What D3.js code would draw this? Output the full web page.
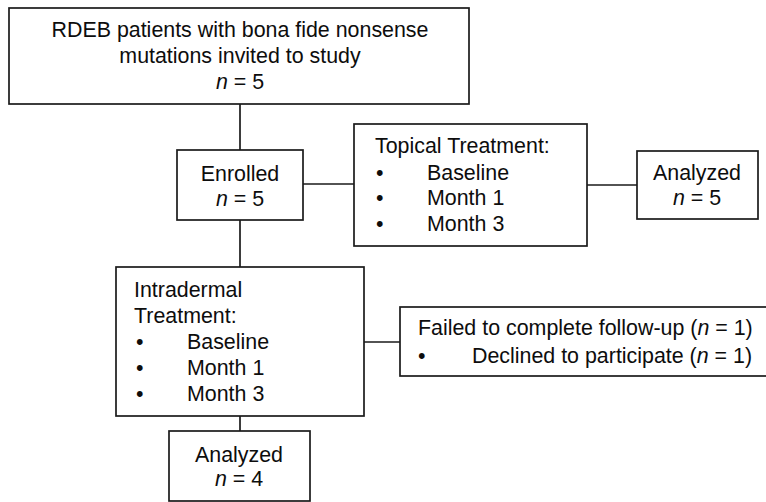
<!DOCTYPE html>
<html>
<head>
<meta charset="utf-8">
<script src="https://cdn.jsdelivr.net/npm/d3@7"></script>
<style>
  html, body { margin: 0; padding: 0; background: #fff; }
  svg { display: block; }
  text { font-family: "Liberation Sans", Arial, Helvetica, sans-serif; font-size: 21.4px; fill: #0d0d0d; }
</style>
</head>
<body>
<svg id="chart" width="766" height="502"></svg>
<script>
// ---- content (data) ----
const nodeIds = ["invited", "enrolled", "topical", "analyzedTopical", "intradermal", "failed", "analyzedIntra"];
const nodeTitles = [
  ["RDEB patients with bona fide nonsense", "mutations invited to study"],
  ["Enrolled"],
  ["Topical Treatment:"],
  ["Analyzed"],
  ["Intradermal", "Treatment:"],
  ["Failed to complete follow-up (n = 1)"],
  ["Analyzed"]
];
const nodeCounts = [5, 5, null, 5, null, null, 4];
const nodeBullets = [
  [],
  [],
  ["Baseline", "Month 1", "Month 3"],
  [],
  ["Baseline", "Month 1", "Month 3"],
  ["Declined to participate (n = 1)"],
  []
];
const links = [
  ["invited", "enrolled"],
  ["enrolled", "topical"],
  ["topical", "analyzedTopical"],
  ["enrolled", "intradermal"],
  ["intradermal", "failed"],
  ["intradermal", "analyzedIntra"]
];

// ---- layout (positions / styles) ----
const layout = {
  invited:         { x0: 9,   x1: 469, y0: 8,   y1: 104, align: "middle", tx: 240, lines: [37, 63, 89] },
  enrolled:        { x0: 177, x1: 303, y0: 150, y1: 220, align: "middle", tx: 240, lines: [181, 206] },
  topical:         { x0: 354, x1: 587, y0: 124, y1: 246, align: "start",  tx: 375, bx: 376, ix: 427, lines: [153, 180, 205, 231] },
  analyzedTopical: { x0: 637, x1: 758, y0: 151, y1: 219, align: "middle", tx: 697, lines: [180, 205] },
  intradermal:     { x0: 116, x1: 364, y0: 267, y1: 416, align: "start",  tx: 134, bx: 136, ix: 187, lines: [297, 323, 349, 375, 401] },
  failed:          { x0: 400, x1: 780, y0: 307, y1: 376, align: "start",  tx: 418, bx: 418, ix: 472, lines: [335, 363] },
  analyzedIntra:   { x0: 169, x1: 310, y0: 431, y1: 501, align: "middle", tx: 239, lines: [462, 486] }
};
const linkGeom = {
  "invited-enrolled":          { x1: 240, y1: 104, x2: 240, y2: 150 },
  "enrolled-topical":          { x1: 303, y1: 184, x2: 354, y2: 184 },
  "topical-analyzedTopical":   { x1: 587, y1: 185, x2: 637, y2: 185 },
  "enrolled-intradermal":      { x1: 240, y1: 220, x2: 240, y2: 267 },
  "intradermal-failed":        { x1: 364, y1: 342, x2: 400, y2: 342 },
  "intradermal-analyzedIntra": { x1: 240, y1: 416, x2: 240, y2: 431 }
};
const strokeColor = "#1a1a1a";
const strokeW = 1.7;

const svg = d3.select("#chart");

// connectors
svg.append("g").selectAll("line")
  .data(links)
  .join("line")
  .attr("x1", d => linkGeom[d.join("-")].x1)
  .attr("y1", d => linkGeom[d.join("-")].y1)
  .attr("x2", d => linkGeom[d.join("-")].x2)
  .attr("y2", d => linkGeom[d.join("-")].y2)
  .attr("stroke", strokeColor)
  .attr("stroke-width", strokeW);

const nodes = nodeIds.map((id, i) => ({
  id, titles: nodeTitles[i], count: nodeCounts[i], bullets: nodeBullets[i], L: layout[id]
}));

// write text with italic "n"
function richText(sel, str) {
  const parts = str.split(/(\bn\b)/);
  parts.forEach(p => {
    if (p === "") return;
    const t = sel.append("tspan").text(p);
    if (p === "n") t.style("font-style", "italic");
  });
}

const g = svg.append("g").selectAll("g").data(nodes).join("g");

g.append("rect")
  .attr("x", d => d.L.x0)
  .attr("y", d => d.L.y0)
  .attr("width", d => d.L.x1 - d.L.x0)
  .attr("height", d => d.L.y1 - d.L.y0)
  .attr("fill", "#fff")
  .attr("stroke", strokeColor)
  .attr("stroke-width", strokeW);

g.each(function(d) {
  const el = d3.select(this);
  let li = 0;
  d.titles.forEach(t => {
    const tx = el.append("text")
      .attr("x", d.L.tx)
      .attr("y", d.L.lines[li++])
      .attr("text-anchor", d.L.align);
    richText(tx, t);
  });
  if (d.count !== null) {
    const tx = el.append("text")
      .attr("x", d.L.tx)
      .attr("y", d.L.lines[li++])
      .attr("text-anchor", d.L.align);
    richText(tx, "n = " + d.count);
  }
  d.bullets.forEach(b => {
    const y = d.L.lines[li++];
    el.append("text").attr("x", d.L.bx).attr("y", y).text("\u2022");
    const tx = el.append("text").attr("x", d.L.ix).attr("y", y);
    richText(tx, b);
  });
});
</script>
</body>
</html>
